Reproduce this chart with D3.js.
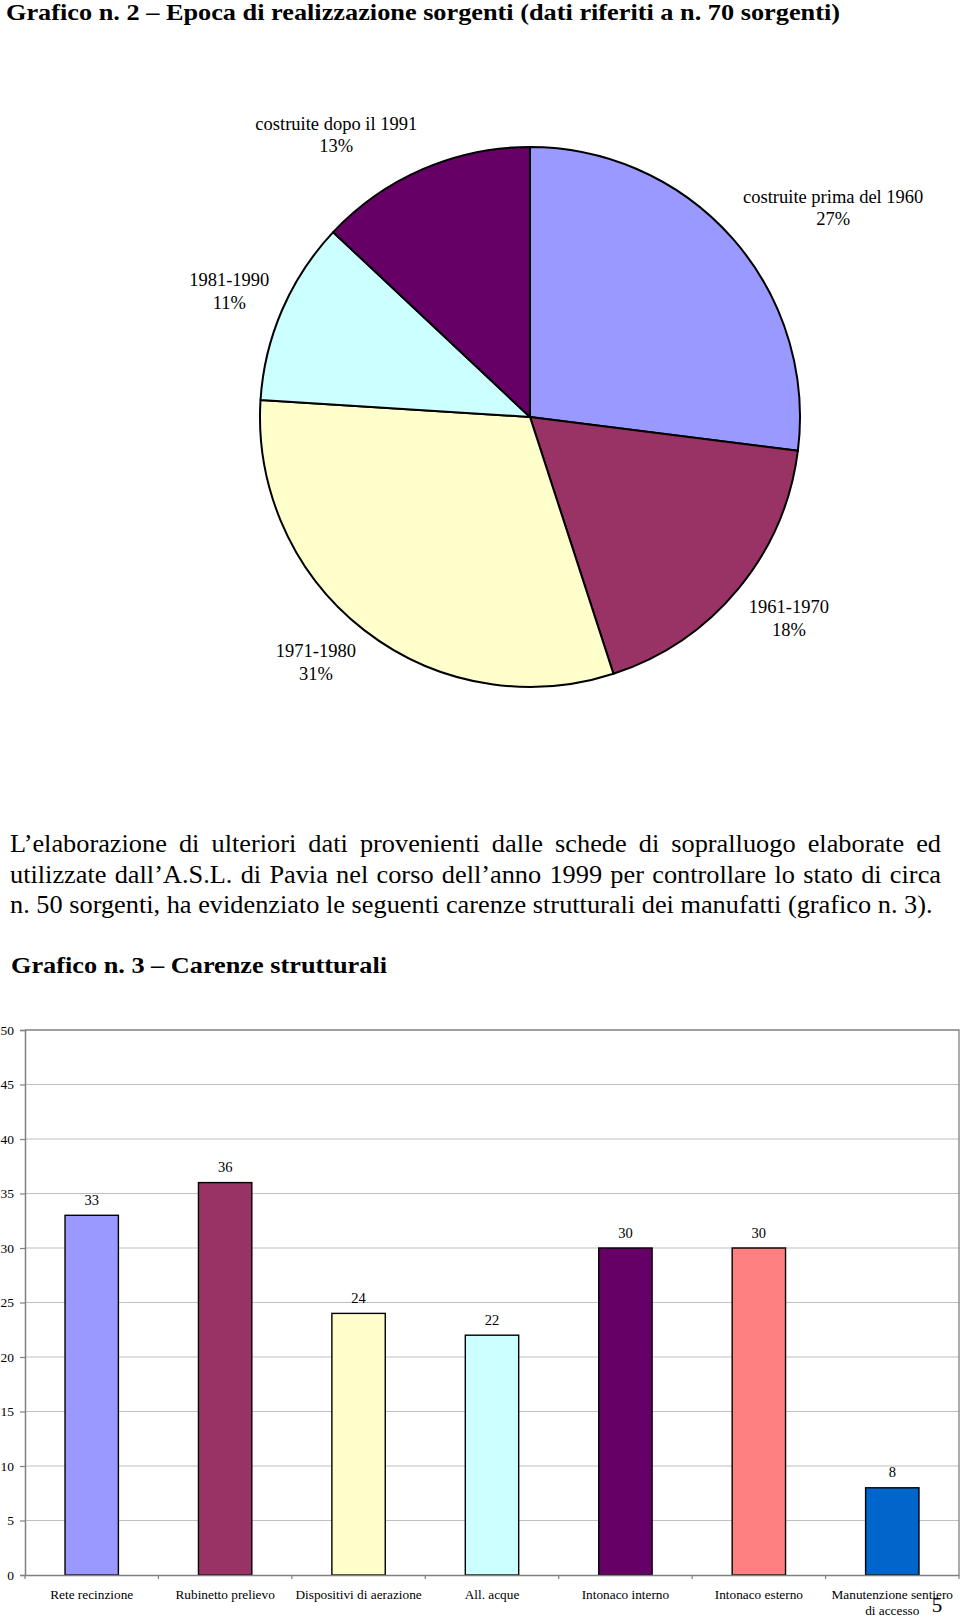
<!DOCTYPE html>
<html>
<head>
<meta charset="utf-8">
<script src="https://cdn.jsdelivr.net/npm/d3@7"></script>
<style>
  html, body { margin: 0; padding: 0; background: #fff; }
  svg { display: block; }
  text { font-family: "Liberation Serif", "Times New Roman", serif; fill: #000; }
</style>
</head>
<body>
<svg id="page" width="960" height="1617"></svg>
<script>
// ---------------- DATA ----------------
const pieCategories = ["costruite prima del 1960", "1961-1970", "1971-1980", "1981-1990", "costruite dopo il 1991"];
const pieValues = [27, 18, 31, 11, 13];
const pieColors = ["#9999FF", "#993366", "#FFFFCC", "#CCFFFF", "#660066"];

const barCategories = ["Rete recinzione", "Rubinetto prelievo", "Dispositivi di aerazione", "All. acque", "Intonaco interno", "Intonaco esterno", "Manutenzione sentiero di accesso"];
const barValues = [33, 36, 24, 22, 30, 30, 8];
const barColors = ["#9999FF", "#993366", "#FFFFCC", "#CCFFFF", "#660066", "#FF8080", "#0066CC"];
const yTicks = [0, 5, 10, 15, 20, 25, 30, 35, 40, 45, 50];

const title1 = "Grafico n. 2 – Epoca di realizzazione sorgenti (dati riferiti a n. 70 sorgenti)";
const paragraph = [
  "L’elaborazione di ulteriori dati provenienti dalle schede di sopralluogo elaborate ed",
  "utilizzate dall’A.S.L. di Pavia nel corso dell’anno 1999 per controllare lo stato di circa",
  "n. 50 sorgenti, ha evidenziato le seguenti carenze strutturali dei manufatti (grafico n. 3)."
];
const title2 = "Grafico n. 3 – Carenze strutturali";
const pageNumber = "5";

// ---------------- PAGE ----------------
const svg = d3.select("#page");

svg.append("text")
  .attr("x", 6).attr("y", 20)
  .style("font-weight", "bold").style("font-size", "24px")
  .attr("textLength", 834).attr("lengthAdjust", "spacingAndGlyphs")
  .text(title1);

// ---------------- PIE ----------------
const cx = 530, cy = 417, R = 270;
const pieG = svg.append("g").attr("transform", `translate(${cx},${cy})`);
const pie = d3.pie().sort(null).value(d => d.v);
const arcs = pie(pieValues.map((v, i) => ({ v, name: pieCategories[i], color: pieColors[i] })));
const arc = d3.arc().innerRadius(0).outerRadius(R);

pieG.selectAll("path.slice").data(arcs).enter().append("path")
  .attr("class", "slice")
  .attr("d", arc)
  .attr("fill", d => d.data.color)
  .attr("stroke", "#000").attr("stroke-width", 2).attr("stroke-linejoin", "round");

const pieFont = 18.5, lineGap = 22.5;
arcs.forEach(d => {
  const mid = (d.startAngle + d.endAngle) / 2;
  const s = Math.sin(mid), c = Math.cos(mid);
  const rr = R + 14;
  const g = pieG.append("g");
  const t = g.append("text").attr("text-anchor", "middle").style("font-size", pieFont + "px");
  t.append("tspan").attr("x", 0).attr("y", -lineGap / 2 + 6).text(d.data.name);
  t.append("tspan").attr("x", 0).attr("y", lineGap / 2 + 6).text(d.data.v + "%");
  const bb = t.node().getBBox();
  const hw = bb.width / 2, hh = bb.height / 2;
  const clamp = v => Math.max(-1, Math.min(1, v));
  const px = rr * s + hw * clamp(3 * s);
  const py = -rr * c - hh * clamp(1.5 * c);
  g.attr("transform", `translate(${px},${py})`);
});

// ---------------- PARAGRAPH ----------------
const paraFont = 24.5;
const paraBase = [852, 882.5, 913];
const paraLeft = 10, paraRight = 941, lastRight = 933;
// horizontal stretch derived from the (unjustified) last line
const probeP = svg.append("text").style("font-size", paraFont + "px").text(paragraph[paragraph.length - 1]);
const kx = (lastRight - paraLeft) / probeP.node().getComputedTextLength();
probeP.remove();
paragraph.forEach((line, i) => {
  const t = svg.append("text")
    .attr("transform", `translate(${paraLeft},${paraBase[i]}) scale(${kx},1)`)
    .attr("x", 0).attr("y", 0)
    .style("font-size", paraFont + "px")
    .text(line);
  if (i < paragraph.length - 1) {
    const natural = t.node().getComputedTextLength();
    const spaces = (line.match(/ /g) || []).length;
    const target = (paraRight - paraLeft) / kx;
    t.attr("word-spacing", ((target - natural) / spaces) + "px");
  }
});

svg.append("text")
  .attr("x", 11).attr("y", 973)
  .style("font-weight", "bold").style("font-size", "24px")
  .attr("textLength", 376).attr("lengthAdjust", "spacingAndGlyphs")
  .text(title2);

// ---------------- BAR CHART ----------------
const x0 = 25, x1 = 959, yTop = 1030, yBot = 1575;
const y = d3.scaleLinear().domain([0, 50]).range([yBot, yTop]);
const x = d3.scaleBand().domain(barCategories).range([x0, x1]).padding(0);

const chart = svg.append("g");

// gridlines
chart.selectAll("line.grid").data(yTicks.filter(v => v > 0 && v < 50)).enter().append("line")
  .attr("class", "grid")
  .attr("x1", x0).attr("x2", x1)
  .attr("y1", d => y(d)).attr("y2", d => y(d))
  .attr("stroke", "#c0c0c0").attr("stroke-width", 1.2);

// plot area border (top/right)
chart.append("path")
  .attr("d", `M${x0},${y(50)}H${x1}V${y(0)}`)
  .attr("fill", "none").attr("stroke", "#808080").attr("stroke-width", 1.3);

// bars
const bw = x.bandwidth() * 0.4;
chart.selectAll("rect.bar").data(barValues).enter().append("rect")
  .attr("class", "bar")
  .attr("x", (d, i) => x(barCategories[i]) + (x.bandwidth() - bw) / 2)
  .attr("y", d => y(d))
  .attr("width", bw)
  .attr("height", d => y(0) - y(d))
  .attr("fill", (d, i) => barColors[i])
  .attr("stroke", "#000").attr("stroke-width", 1.4);

// value labels
chart.selectAll("text.val").data(barValues).enter().append("text")
  .attr("class", "val")
  .attr("x", (d, i) => x(barCategories[i]) + x.bandwidth() / 2)
  .attr("y", d => y(d) - 10.5)
  .attr("text-anchor", "middle")
  .style("font-size", "14.5px")
  .text(d => d);

// y axis
const yAxis = d3.axisLeft(y).tickValues(yTicks).tickSize(5).tickPadding(6).tickFormat(d3.format("d"));
const yg = chart.append("g").attr("transform", `translate(${x0},0)`).call(yAxis);
yg.select(".domain").attr("stroke", "#808080").attr("stroke-width", 1.5);
yg.selectAll(".tick line").attr("stroke", "#808080").attr("stroke-width", 1.2);
yg.selectAll(".tick text").style("font-family", '"Liberation Serif", serif').style("font-size", "13.5px").attr("fill", "#000").attr("x", -11);

// x axis baseline and ticks at band boundaries
const xAxis = d3.axisBottom(x).tickSize(0).tickPadding(0);
const xg = chart.append("g").attr("transform", `translate(0,${yBot})`).call(xAxis);
xg.select(".domain").attr("stroke", "#808080").attr("stroke-width", 1.5);
xg.selectAll(".tick text").remove();
const bounds = barCategories.map(c => x(c)).concat([x1]);
xg.selectAll("line.bt").data(bounds).enter().append("line")
  .attr("class", "bt")
  .attr("x1", d => d).attr("x2", d => d)
  .attr("y1", 0).attr("y2", 4)
  .attr("stroke", "#808080").attr("stroke-width", 1.2);

// category labels with wrapping
const labG = chart.append("g");
barCategories.forEach(cat => {
  const t = labG.append("text")
    .attr("text-anchor", "middle")
    .style("font-size", "13.3px");
  const cxp = x(cat) + x.bandwidth() / 2;
  const words = cat.split(" ");
  let lines = [], cur = [];
  const probe = svg.append("text").style("font-size", "13.3px");
  words.forEach(w => {
    const test = cur.concat([w]).join(" ");
    probe.text(test);
    if (probe.node().getComputedTextLength() > x.bandwidth() - 6 && cur.length) {
      lines.push(cur.join(" "));
      cur = [w];
    } else cur.push(w);
  });
  lines.push(cur.join(" "));
  probe.remove();
  lines.forEach((l, i) => {
    t.append("tspan").attr("x", cxp).attr("y", yBot + 24 + i * 16).text(l);
  });
});

// page number
svg.append("text")
  .attr("x", 937).attr("y", 1612)
  .attr("text-anchor", "middle")
  .style("font-size", "21px")
  .text(pageNumber);
</script>
</body>
</html>
